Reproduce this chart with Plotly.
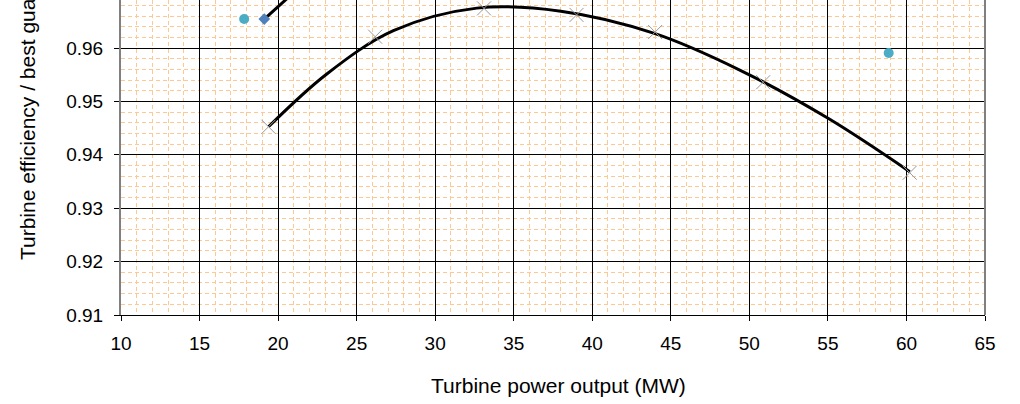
import plotly.graph_objects as go

meas_x = [19.39, 26.18, 33.11, 39.0, 44.0, 50.88, 60.21]
meas_y = [0.94526, 0.96212, 0.96743, 0.9662, 0.9630, 0.9536, 0.93665]

# Trendline points
trend_x = [19.39, 23.10, 27.34, 32.65, 38.0, 44.0, 49.39, 55.01, 60.21]
trend_y = [0.94526, 0.95515, 0.96325, 0.96748, 0.96690, 0.96270, 0.95588, 0.94684, 0.93684]

# Guaranteed point (blue diamond) with its line rising out of view
guar_x = [19.12, 20.45, 21.3]
guar_y = [0.96543, 0.96899, 0.9712]

# Light-blue circle points
pt_x = [17.84, 58.87]
pt_y = [0.96543, 0.95906]

FONT = "Liberation Sans, Arial, sans-serif"
MINOR = "#fdc892"

fig = go.Figure()
fig.add_trace(go.Scatter(x=trend_x, y=trend_y, mode="lines",
                         line=dict(color="black", width=3, shape="spline", smoothing=1.0),
                         showlegend=False, hoverinfo="skip"))
fig.add_trace(go.Scatter(x=guar_x, y=guar_y, mode="lines",
                         line=dict(color="black", width=3),
                         showlegend=False, hoverinfo="skip"))
fig.add_trace(go.Scatter(x=meas_x, y=meas_y, mode="markers",
                         marker=dict(symbol="x-thin", size=14,
                                     line=dict(color="#9a9a9a", width=1)),
                         showlegend=False))
fig.add_trace(go.Scatter(x=guar_x[:1], y=guar_y[:1], mode="markers",
                         marker=dict(symbol="diamond", size=9, color="#4f81bd"),
                         showlegend=False))
fig.add_trace(go.Scatter(x=pt_x, y=pt_y, mode="markers",
                         marker=dict(symbol="circle", size=10, color="#4bacc6"),
                         showlegend=False))

fig.update_layout(
    width=1020, height=404,
    margin=dict(l=121, r=35, t=0, b=89),
    paper_bgcolor="white", plot_bgcolor="white",
    font=dict(family=FONT, size=19, color="black"),
    showlegend=False,
)
fig.update_xaxes(
    range=[10, 65], dtick=5, tick0=10,
    showgrid=True, gridcolor="black", gridwidth=1,
    showline=True, linecolor="black", linewidth=1,
    ticks="outside", ticklen=5, tickcolor="black",
    ticklabelstandoff=6,
    zeroline=False,
    minor=dict(dtick=1, showgrid=True, gridcolor=MINOR, griddash="4px,3px", gridwidth=1),
)
fig.update_yaxes(
    range=[0.91, 0.969], dtick=0.01, tick0=0.91, tickformat=".2f",
    showgrid=True, gridcolor="black", gridwidth=1,
    showline=True, linecolor="#808080", linewidth=2,
    ticks="outside", ticklen=5, tickcolor="black",
    ticklabelstandoff=7,
    zeroline=False,
    minor=dict(dtick=0.002, showgrid=True, gridcolor=MINOR, griddash="4px,3px", gridwidth=1),
)

# right border of plot area
fig.add_shape(type="line", xref="paper", yref="paper", x0=1, x1=1, y0=0, y1=1,
              line=dict(color="#808080", width=2))

# partially visible top tick label
fig.add_annotation(text="0.97", xref="paper", yref="y", x=-0.0185, y=0.96975,
                   xanchor="right", yanchor="middle", showarrow=False,
                   font=dict(family=FONT, size=19))

# axis titles
fig.add_annotation(text="Turbine power output (MW)", xref="paper", yref="paper",
                   x=(559 - 121) / 864.6, y=-(385 - 315) / 315,
                   xanchor="center", yanchor="middle", showarrow=False,
                   font=dict(family=FONT, size=21))
fig.add_annotation(text="Turbine efficiency / best guaranteed efficiency",
                   xref="paper", yref="paper", textangle=-90,
                   x=-(121 - 27) / 864.6, y=(315 - 262) / 315,
                   xanchor="center", yanchor="bottom", showarrow=False,
                   font=dict(family=FONT, size=21))

fig.write_html("out.html")
